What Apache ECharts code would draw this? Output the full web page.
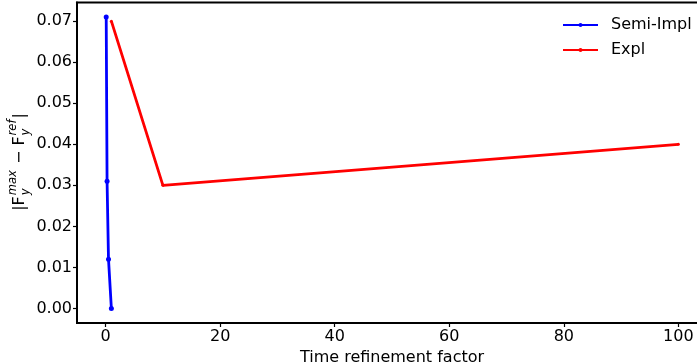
<!DOCTYPE html>
<html>
<head>
<meta charset="utf-8">
<script src="https://cdn.jsdelivr.net/npm/echarts@6/dist/echarts.min.js"></script>
<style>
  html, body { margin: 0; padding: 0; background: #fff; }
  #chart { width: 697px; height: 364px; }
</style>
</head>
<body>
<div id="chart"></div>
<script>
// Time refinement study: error of the peak vertical force
const semiImplX = [0.1, 0.25, 0.5, 1];
const semiImplY = [0.071, 0.031, 0.012, 0.0];
const explX = [1, 10, 100];
const explY = [0.070, 0.030, 0.040];
const xTicks = [0, 20, 40, 60, 80, 100];
const yTicks = [0, 0.01, 0.02, 0.03, 0.04, 0.05, 0.06, 0.07];

const FONT = '"DejaVu Sans", sans-serif';
const FS = 16;
const chart = echarts.init(document.getElementById('chart'), null, { renderer: 'canvas' });

// Measure text to lay out the stacked sub/superscripts of the y label
const mctx = document.createElement('canvas').getContext('2d');
function tw(t, font) { mctx.font = font; return mctx.measureText(t).width; }

function buildYLabel() {
  const bigFont = FS + 'px ' + FONT;
  const smallFont = 'italic 11.5px ' + FONT;
  const parts = [
    { t: '|F' },
    { sup: 'max', sub: 'y' },
    { t: ' \u2212 F' },
    { sup: 'ref', sub: 'y' },
    { t: '|' }
  ];
  const children = [];
  let x = 0;
  parts.forEach(p => {
    if (p.t !== undefined) {
      children.push({ type: 'text', x: x, y: 0,
        style: { text: p.t, font: bigFont, fill: '#000', align: 'left', verticalAlign: 'middle' } });
      x += tw(p.t, bigFont);
    } else {
      x += 1;
      children.push({ type: 'text', x: x, y: -6.5,
        style: { text: p.sup, font: smallFont, fill: '#000', align: 'left', verticalAlign: 'middle' } });
      children.push({ type: 'text', x: x, y: 6.5,
        style: { text: p.sub, font: smallFont, fill: '#000', align: 'left', verticalAlign: 'middle' } });
      x += Math.max(tw(p.sup, smallFont), tw(p.sub, smallFont)) + 1;
    }
  });
  children.forEach(c => { c.x -= x / 2; });
  return { type: 'group', x: 20, y: 162, rotation: Math.PI / 2, children: children };
}

const toPairs = (xs, ys) => xs.map((v, i) => [v, ys[i]]);

chart.setOption({
  animation: false,
  backgroundColor: '#fff',
  textStyle: { fontFamily: FONT },
  grid: {
    left: 77, right: -10, top: 2.5, bottom: 41,
    show: true, borderColor: '#000', borderWidth: 2,
    outerBoundsMode: 'none', containLabel: false
  },
  legend: {
    orient: 'vertical',
    left: 557,
    top: 10,
    itemWidth: 35,
    itemHeight: 5,
    itemGap: 5,
    textStyle: { fontSize: FS, color: '#000', fontFamily: FONT, lineHeight: 20, padding: [0, 0, 0, 8] },
    data: ['Semi-Impl', 'Expl']
  },
  xAxis: {
    type: 'value',
    min: -5,
    max: 105,
    name: 'Time refinement factor',
    nameLocation: 'middle',
    nameGap: 21,
    nameTextStyle: { fontSize: FS, color: '#000', fontFamily: FONT },
    axisLine: { show: true, onZero: false, lineStyle: { color: '#000', width: 2 } },
    axisTick: { show: true, length: 4, customValues: xTicks, lineStyle: { color: '#000', width: 1.2 } },
    axisLabel: { customValues: xTicks, fontSize: FS, color: '#000', fontFamily: FONT, margin: 6 },
    splitLine: { show: false }
  },
  yAxis: {
    type: 'value',
    min: -0.00355,
    max: 0.07455,
    axisLine: { show: true, onZero: false, lineStyle: { color: '#000', width: 2 } },
    axisTick: { show: true, length: 4, customValues: yTicks, lineStyle: { color: '#000', width: 1.2 } },
    axisLabel: { customValues: yTicks, fontSize: FS, color: '#000', fontFamily: FONT, margin: 5,
      formatter: v => v.toFixed(2) },
    splitLine: { show: false }
  },
  graphic: [buildYLabel()],
  series: [
    {
      name: 'Semi-Impl',
      type: 'line',
      data: toPairs(semiImplX, semiImplY),
      color: '#0000ff',
      lineStyle: { width: 2.8, color: '#0000ff' },
      symbol: 'circle',
      symbolSize: 5,
      itemStyle: { color: '#0000ff' },
      showSymbol: true
    },
    {
      name: 'Expl',
      type: 'line',
      data: toPairs(explX, explY),
      color: '#ff0000',
      lineStyle: { width: 2.8, color: '#ff0000' },
      symbol: 'circle',
      symbolSize: 3,
      itemStyle: { color: '#ff0000' },
      showSymbol: true
    }
  ]
});
</script>
</body>
</html>
